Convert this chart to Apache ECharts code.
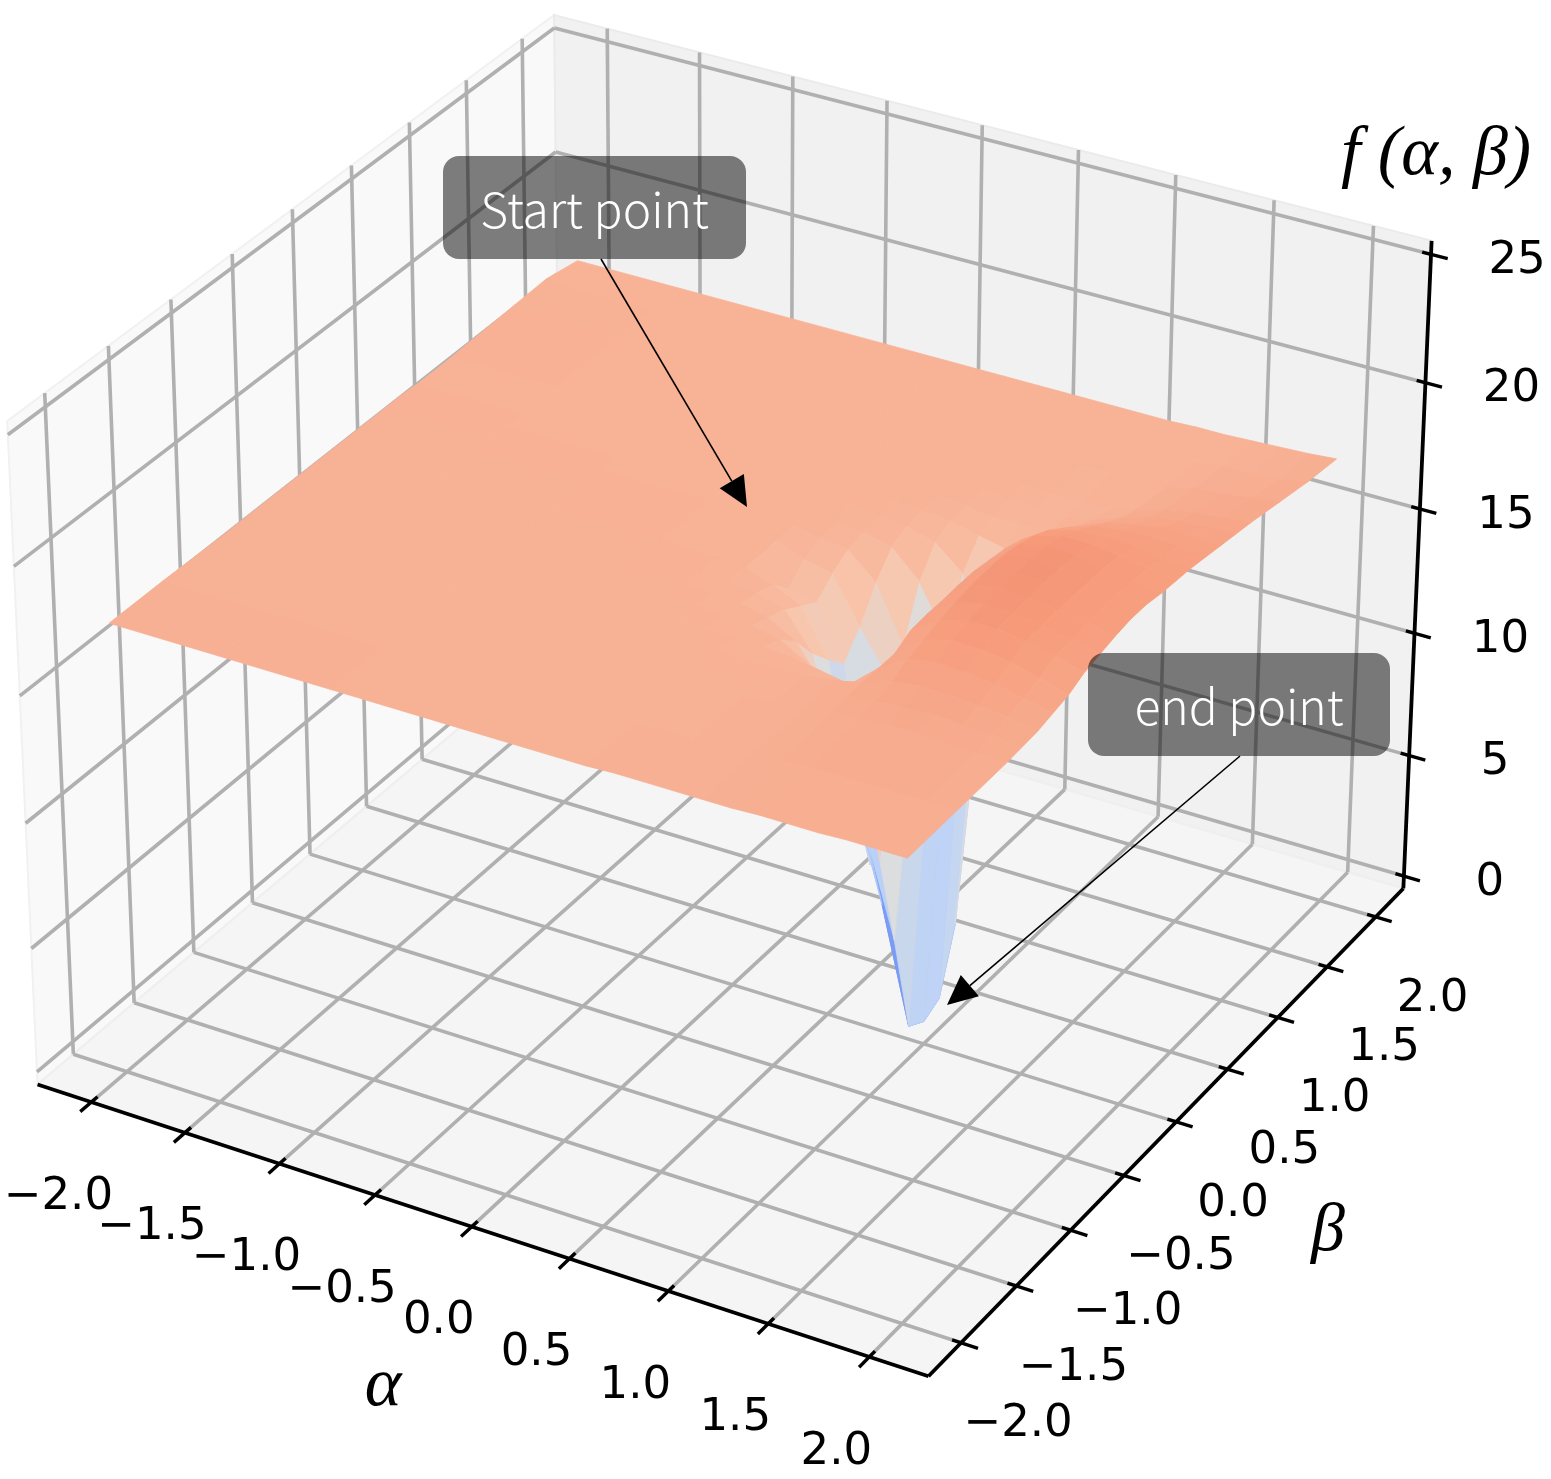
<!DOCTYPE html>
<html>
<head>
<meta charset="utf-8">
<style>html,body{margin:0;padding:0;background:#fff}#chart{width:1551px;height:1479px}</style>
<script src="https://cdn.jsdelivr.net/npm/echarts@6/dist/echarts.min.js"></script>
</head>
<body>
<div id="chart"></div>
<script>
// ---- data ----
const alphaTicks = [-2, -1.5, -1, -0.5, 0, 0.5, 1, 1.5, 2];
const betaTicks = [-2, -1.5, -1, -0.5, 0, 0.5, 1, 1.5, 2];
const zTicks = [0, 5, 10, 15, 20, 25];
const alphaLabels = ['−2.0','−1.5','−1.0','−0.5','0.0','0.5','1.0','1.5','2.0'];
const betaLabels = ['−2.0','−1.5','−1.0','−0.5','0.0','0.5','1.0','1.5','2.0'];
const zLabels = ['0','5','10','15','20','25'];
const alphaGrid = [-2,-1.429,-0.857,-0.286,0,0.143,0.286,0.429,0.571,0.714,0.857,1,1.143,1.286,1.429,1.571,1.714,1.857,2];
const betaGrid = [-2,-1.571,-1.143,-1,-0.857,-0.714,-0.571,-0.429,-0.286,-0.143,0,0.143,0.286,0.429,0.571,0.714,0.857,1,1.143,1.429,1.714,2];
const surfaceZ = [
[17.35,17.35,17.35,17.35,17.35,17.35,17.35,17.35,17.4,17.4,17.4,17.4,17.4,17.45,17.45,17.45,17.5,17.5,17.5],
[17.35,17.35,17.3,17.3,17.3,17.3,17.3,17.3,17.3,17.35,17.35,17.4,17.45,17.5,17.55,17.55,17.55,17.55,17.55],
[17.3,17.3,17.3,17.3,17.3,17.3,17.3,17.3,17.3,17.3,17.35,17.4,17.6,17.7,17.8,17.8,17.75,17.7,17.6],
[17.3,17.3,17.3,17.3,17.3,17.3,17.3,17.3,17.3,17.3,17.3,17.4,17.65,17.8,17.9,17.95,17.9,17.8,17.65],
[17.3,17.3,17.3,17.3,17.3,17.3,17.3,17.3,17.25,17.25,17.3,17.4,17.65,18,18.15,18.15,18.05,17.95,17.7],
[17.3,17.3,17.3,17.3,17.3,17.3,17.3,17.25,17.2,17.1,16.9,16.7,17.65,18.3,18.5,18.45,18.3,18.1,17.85],
[17.3,17.3,17.3,17.3,17.3,17.3,17.25,17.15,16.9,16.3,15.8,13.7,17.65,18.5,18.8,18.75,18.6,18.3,18],
[17.3,17.3,17.3,17.3,17.3,17.25,17.15,16.9,16.3,14.8,14.3,8.7,18,18.7,19,19,18.85,18.6,18.3],
[17.3,17.3,17.3,17.3,17.25,17.2,17,16.7,15.3,11.2,8.6,4.9,18.06,18.85,19.1,19.05,18.9,18.65,18.45],
[17.3,17.3,17.3,17.3,17.25,17.15,16.8,16.3,14.5,9.2,5.4,0.8,18.06,18.95,19.2,19.1,18.95,18.75,18.6],
[17.3,17.3,17.3,17.25,17.2,17.1,16.1,15.9,13.8,6.1,8.1,0.4,18.1,19,19.25,19.15,18.95,18.75,18.7],
[17.3,17.3,17.3,17.25,17.2,17.15,16.7,16.46,14.7,13.1,5.1,0.75,18.1,19,19.25,19.15,18.95,18.8,18.7],
[17.3,17.3,17.25,17.25,17.25,17.2,17,16.86,15.9,13.7,8.2,3.2,18,18.9,19.2,19.1,18.95,18.75,18.6],
[17.3,17.25,17.25,17.25,17.25,17.2,17.1,17,16.74,15.7,13.8,9.1,17.9,18.7,19,19,18.85,18.7,18.55],
[17.25,17.25,17.25,17.25,17.25,17.2,17.2,17.1,17,16.7,15.8,12.8,17.7,18.4,18.7,18.75,18.7,18.6,18.5],
[17.25,17.25,17.25,17.2,17.2,17.2,17.2,17.15,17.1,17,16.74,16.5,17.2,17.95,18.35,18.5,18.55,18.5,18.4],
[17.25,17.25,17.2,17.2,17.2,17.2,17.2,17.2,17.15,17.1,16.94,17,17,17.5,17.95,18.2,18.35,18.35,18.3],
[17.28,17.25,17.2,17.2,17.2,17.2,17.2,17.2,17.2,17.15,17.1,17,17,17.2,17.6,17.9,18.1,18.15,18.2],
[17.3,17.25,17.2,17.2,17.2,17.2,17.2,17.2,17.2,17.15,17.15,17.05,17.05,17.1,17.4,17.7,17.9,18,18.1],
[17.35,17.25,17.2,17.2,17.15,17.15,17.15,17.15,17.15,17.15,17.15,17.15,17.15,17.15,17.2,17.5,17.55,17.7,17.85],
[17.4,17.2,17.15,17.15,17.15,17.15,17.15,17.15,17.15,17.15,17.15,17.15,17.15,17.15,17.15,17.3,17.3,17.4,17.6],
[17.15,17.15,17.15,17.15,17.15,17.15,17.15,17.15,17.15,17.15,17.15,17.15,17.15,17.2,17.2,17.25,17.3,17.35,17.44]
];
const annotationTexts = ['Start point', 'end point'];

// ---- 3D view (matplotlib style camera) ----
const ALIM = [-2.29, 2.29], BLIM = [-2.29, 2.29], ZLIM = [-0.52, 25.52];
const BOX_XY = 1.1429, BOX_Z = 0.84, DIST = 10;
function project(a, b, z) {
  const dx = ((a - ALIM[0]) / (ALIM[1] - ALIM[0]) - 0.5) * BOX_XY;
  const dy = ((b - BLIM[0]) / (BLIM[1] - BLIM[0]) - 0.5) * BOX_XY;
  const dz = ((z - ZLIM[0]) / (ZLIM[1] - ZLIM[0]) - 0.5) * BOX_Z;
  const xv = 0.8660254 * dx + 0.5 * dy;
  const yv = -0.25 * dx + 0.4330127 * dy + 0.8660254 * dz;
  const zv = 0.4330127 * dx - 0.75 * dy + 0.5 * dz;
  const D = DIST - zv;
  return [38 + (xv / D + 0.07779) * 8929, 1383 - (yv / D + 0.07984) * 9007, D];
}

// ---- coolwarm colour map ----
const cmapStops = [[59,76,192],[98,130,234],[141,176,254],[192,212,245],[221,221,221],[248,198,173],[247,156,124],[215,83,66],[180,4,38]];
const CMAP_TOP = 25.15;
function cmap(z) {
  const t = Math.max(0, Math.min(0.9999, z / CMAP_TOP)) * (cmapStops.length - 1);
  const i = Math.floor(t), f = t - i, a = cmapStops[i], b = cmapStops[i + 1];
  return 'rgb(' + a.map((v, k) => Math.round(v + (b[k] - v) * f)).join(',') + ')';
}

// ---- build geometry lists from the data ----
const quads = [];
for (let j = 0; j < betaGrid.length - 1; j++) {
  for (let i = 0; i < alphaGrid.length - 1; i++) {
    const c = [[i, j], [i + 1, j], [i + 1, j + 1], [i, j + 1]]
      .map(([p, q]) => [alphaGrid[p], betaGrid[q], surfaceZ[q][p]]);
    const pr = c.map(v => project(v[0], v[1], v[2]));
    quads.push({
      pts: pr.map(p => [p[0], p[1]]),
      depth: pr.reduce((s, p) => s + p[2], 0) / 4,
      color: cmap(c.reduce((s, v) => s + v[2], 0) / 4)
    });
  }
}
quads.sort((p, q) => q.depth - p.depth);

const [a0, a1] = ALIM, [b0, b1] = BLIM, [z0, z1] = ZLIM;
const panes = [
  { c: [[a0,b0,z0],[a0,b1,z0],[a0,b1,z1],[a0,b0,z1]], fill: '#f9f9f9', edge: '#f1f1f1' },
  { c: [[a0,b1,z0],[a1,b1,z0],[a1,b1,z1],[a0,b1,z1]], fill: '#f1f1f1', edge: '#ebebeb' },
  { c: [[a0,b0,z0],[a1,b0,z0],[a1,b1,z0],[a0,b1,z0]], fill: '#f5f5f5', edge: '#efefef' }
];
const gridSegs = [];
alphaTicks.forEach(a => {
  gridSegs.push([[a,b0,z0],[a,b1,z0]]);
  gridSegs.push([[a,b1,z0],[a,b1,z1]]);
});
betaTicks.forEach(b => {
  gridSegs.push([[a1,b,z0],[a0,b,z0]]);
  gridSegs.push([[a0,b,z0],[a0,b,z1]]);
});
zTicks.forEach(z => {
  gridSegs.push([[a0,b0,z],[a0,b1,z]]);
  gridSegs.push([[a0,b1,z],[a1,b1,z]]);
});
const axisSegs = [
  [[a0,b0,z0],[a1,b0,z0]],
  [[a1,b0,z0],[a1,b1,z0]],
  [[a1,b1,z0],[a1,b1,z1]]
];
const tickSegs = [];
alphaTicks.forEach(a => tickSegs.push([[a,b0-0.09,z0],[a,b0+0.05,z0]]));
betaTicks.forEach(b => tickSegs.push([[a1+0.083,b,z0],[a1-0.044,b,z0]]));
zTicks.forEach(z => tickSegs.push([[a1+0.083,b1,z],[a1-0.044,b1,z]]));

const TICK_FONT = 'DejaVu Sans', TICK_SIZE = 45;
const labels = [];
alphaTicks.forEach((a, i) => { const p = project(a, b0, z0); labels.push({ t: alphaLabels[i], x: p[0] - 33, y: p[1] + 95 }); });
betaTicks.forEach((b, i) => { const p = project(a1, b, z0); labels.push({ t: betaLabels[i], x: p[0] + 57, y: p[1] + 82 }); });
zTicks.forEach((z, i) => { const p = project(a1, b1, z); labels.push({ t: zLabels[i], x: p[0] + 86, y: p[1] + 7 }); });

const axisNames = [
  { t: 'α', x: 383, y: 1387, size: 70 },
  { t: 'β', x: 1328, y: 1232, size: 68 },
  { t: 'f (α, β)', x: 1436, y: 156, size: 70 }
];
const boxes = [
  { x: 443, y: 156, w: 303, h: 103 },
  { x: 1088, y: 653, w: 302, h: 103 }
];
const arrows = [
  { from: [601, 259], to: [747, 507] },
  { from: [1240, 756], to: [947, 1005] }
];
const HEAD_LEN = 30, HEAD_HALF = 14;

// ---- series helpers ----
function layer(name, items, draw) {
  return {
    type: 'custom', name, coordinateSystem: 'cartesian2d', clip: false, silent: true, animation: false,
    data: items.map((_, i) => [i, 0]),
    renderItem: (params, api) => draw(items[params.dataIndex], api)
  };
}
const xy = (api, v) => api.coord(project(v[0], v[1], v[2]).slice(0, 2));
function seg(api, s, stroke, lineWidth) {
  const p = xy(api, s[0]), q = xy(api, s[1]);
  return { type: 'line', shape: { x1: p[0], y1: p[1], x2: q[0], y2: q[1] }, style: { stroke, lineWidth, lineCap: 'butt' } };
}

const option = {
  backgroundColor: '#ffffff',
  animation: false,
  grid: { left: 0, right: 0, top: 0, bottom: 0 },
  xAxis: { type: 'value', min: 0, max: 1551, show: false },
  yAxis: { type: 'value', min: 0, max: 1479, inverse: true, show: false },
  series: [
    layer('panes', panes, (d, api) => ({
      type: 'polygon',
      shape: { points: d.c.map(v => xy(api, v)) },
      style: { fill: d.fill, stroke: d.edge, lineWidth: 2 }
    })),
    layer('grid', gridSegs, (s, api) => seg(api, s, '#b0b0b0', 3.6)),
    layer('axes', axisSegs, (s, api) => seg(api, s, '#000', 3.8)),
    layer('ticks', tickSegs, (s, api) => seg(api, s, '#000', 3.4)),
    layer('surface', quads, (q, api) => ({
      type: 'polygon',
      shape: { points: q.pts.map(p => api.coord(p)) },
      style: { fill: q.color, stroke: q.color, lineWidth: 0.8, lineJoin: 'round' }
    })),
    layer('tickLabels', labels, (d, api) => {
      const p = api.coord([d.x, d.y]);
      return { type: 'text', style: { text: d.t, x: p[0], y: p[1], fill: '#000', fontFamily: TICK_FONT, fontSize: TICK_SIZE, align: 'center', verticalAlign: 'middle' } };
    }),
    layer('axisNames', axisNames, (d, api) => {
      const p = api.coord([d.x, d.y]);
      return { type: 'text', style: { text: d.t, x: p[0], y: p[1], fill: '#000', fontFamily: 'Liberation Serif', fontStyle: 'italic', fontSize: d.size, align: 'center', verticalAlign: 'middle' } };
    }),
    layer('arrows', arrows, (d, api) => {
      const p = api.coord(d.from), q = api.coord(d.to);
      const l = Math.hypot(q[0] - p[0], q[1] - p[1]), ux = (q[0] - p[0]) / l, uy = (q[1] - p[1]) / l;
      const bx = q[0] - ux * HEAD_LEN, by = q[1] - uy * HEAD_LEN;
      return { type: 'group', children: [
        { type: 'line', shape: { x1: p[0], y1: p[1], x2: bx, y2: by }, style: { stroke: '#000', lineWidth: 1.6 } },
        { type: 'polygon', shape: { points: [q, [bx - uy * HEAD_HALF, by + ux * HEAD_HALF], [bx + uy * HEAD_HALF, by - ux * HEAD_HALF]] }, style: { fill: '#000' } }
      ] };
    }),
    layer('boxes', boxes, (d, api) => {
      const p = api.coord([d.x, d.y]);
      return { type: 'rect', shape: { x: p[0], y: p[1], width: d.w, height: d.h, r: 16 }, style: { fill: 'rgba(0,0,0,0.5)' } };
    }),
    layer('boxText', boxes, (d, api) => {
      const i = boxes.indexOf(d), p = api.coord([d.x + d.w / 2, d.y + d.h / 2 + 2]);
      return { type: 'text', style: { text: annotationTexts[i], x: p[0], y: p[1], fill: '#fff', fontFamily: 'Noto Sans CJK SC', fontWeight: 300, fontSize: 48, align: 'center', verticalAlign: 'middle' } };
    })
  ]
};
echarts.init(document.getElementById('chart'), null, { renderer: 'canvas' }).setOption(option);
</script>
</body>
</html>
